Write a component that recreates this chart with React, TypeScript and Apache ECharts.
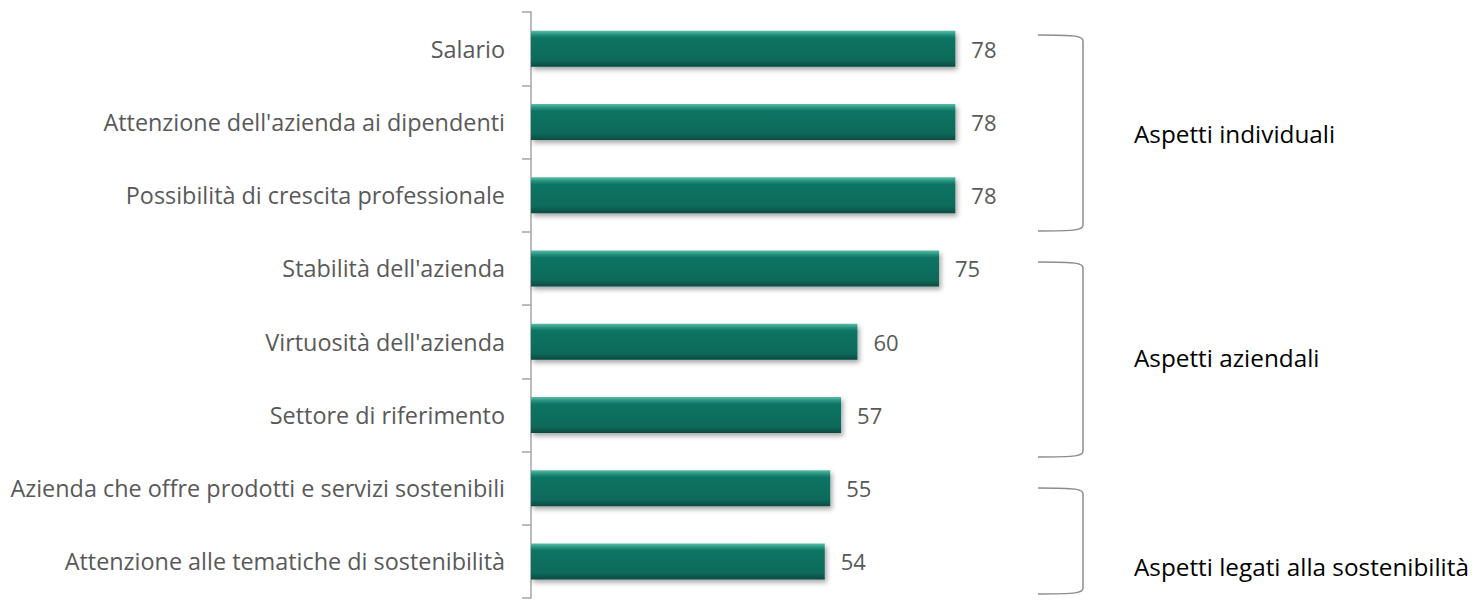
import React, { useEffect, useRef } from "react";
import * as echarts from "echarts";

const categories = [
  "Salario",
  "Attenzione dell'azienda ai dipendenti",
  "Possibilità di crescita professionale",
  "Stabilità dell'azienda",
  "Virtuosità dell'azienda",
  "Settore di riferimento",
  "Azienda che offre prodotti e servizi sostenibili",
  "Attenzione alle tematiche di sostenibilità",
];
const values = [78, 78, 78, 75, 60, 57, 55, 54];
const groupLabels = ["Aspetti individuali", "Aspetti aziendali", "Aspetti legati alla sostenibilità"];

const FONT = "'Open Sans', sans-serif";

function bracket(top: number, bottom: number, xl: number, xr: number) {
  const stroke = { stroke: "#8c8c8c", lineWidth: 1.5, fill: "none" };
  return {
    type: "group",
    children: [
      {
        type: "bezierCurve",
        shape: { x1: xl, y1: top, cpx1: xr - 6, cpy1: top, cpx2: xr, cpy2: top + 1, x2: xr, y2: top + 6 },
        style: stroke,
      },
      { type: "line", shape: { x1: xr, y1: top + 6, x2: xr, y2: bottom - 6 }, style: stroke },
      {
        type: "bezierCurve",
        shape: { x1: xr, y1: bottom - 6, cpx1: xr, cpy1: bottom - 1, cpx2: xr - 6, cpy2: bottom, x2: xl, y2: bottom },
        style: stroke,
      },
    ],
  };
}

export default function App() {
  const ref = useRef<HTMLDivElement>(null);
  useEffect(() => {
    const chart = echarts.init(ref.current!, null, { renderer: "svg" });
    const groupText = (i: number, y: number) => ({
      type: "text",
      x: 1134,
      y,
      style: { text: groupLabels[i], fill: "#000", fontSize: 24.3, fontFamily: FONT, verticalAlign: "middle" },
    });
    chart.setOption({
      animation: false,
      grid: { left: 531, top: 12, height: 586, width: 544 },
      xAxis: {
        type: "value",
        min: 0,
        max: 100,
        show: false,
      },
      yAxis: {
        type: "category",
        data: categories,
        inverse: true,
        axisLine: { show: true, lineStyle: { color: "#a6a6a6", width: 1.5 } },
        axisTick: { show: true, length: 9, lineStyle: { color: "#a6a6a6", width: 1.5 } },
        axisLabel: { margin: 26, color: "#595959", fontSize: 23.4, fontFamily: FONT },
      },
      series: [
        {
          type: "bar",
          data: values,
          barWidth: 36,
          itemStyle: {
            color: new echarts.graphic.LinearGradient(0, 0, 0, 1, [
              { offset: 0, color: "#5cbfa9" },
              { offset: 0.1, color: "#2a9580" },
              { offset: 0.2, color: "#0d7463" },
              { offset: 0.82, color: "#0b6a5a" },
              { offset: 1, color: "#074a40" },
            ]),
            shadowColor: "rgba(0,0,0,0.35)",
            shadowBlur: 5,
            shadowOffsetX: 2,
            shadowOffsetY: 3,
          },
          label: {
            show: true,
            position: "right",
            distance: 16,
            color: "#595959",
            fontSize: 22,
            fontFamily: FONT,
          },
        },
      ],
      graphic: [
        bracket(35, 231, 1038, 1083),
        bracket(262, 457, 1038, 1083),
        bracket(488, 594, 1038, 1083),
        groupText(0, 133),
        groupText(1, 357),
        groupText(2, 566),
      ],
    });
    return () => chart.dispose();
  }, []);
  return (
    <div
      ref={ref}
      style={{ position: "absolute", left: 0, top: 0, width: 1476, height: 604, background: "#fff" }}
    />
  );
}
